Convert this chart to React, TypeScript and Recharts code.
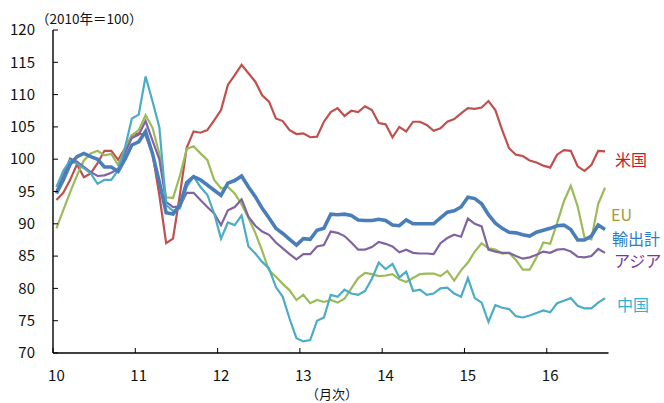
import { Line, LineChart, XAxis, YAxis } from "recharts";

// monthly index, Jan 2010 .. Sep 2016 (2010 = 100)
const usa = [
  93.7, 94.8, 96.8, 99.2, 97.2, 97.8, 99.4, 101.3, 101.3, 99.9,
  101.7, 103.7, 104.0, 103.7, 100.9, 94.5, 87.0, 87.7, 94.5, 101.8,
  104.3, 104.1, 104.5, 106.0, 107.6, 111.5, 113.0, 114.6, 113.3, 112.0,
  109.9, 108.9, 106.3, 105.9, 104.5, 103.9, 104.0, 103.4, 103.5, 105.8,
  107.3, 107.9, 106.7, 107.5, 107.3, 108.2, 107.6, 105.6, 105.4, 103.4,
  105.0, 104.3, 105.8, 105.8, 105.3, 104.4, 104.8, 105.8, 106.2, 107.1,
  107.9, 107.8, 108.0, 109.0, 107.6, 104.5, 101.7, 100.7, 100.5, 99.8,
  99.5, 99.0, 98.7, 100.7, 101.4, 101.3, 98.9, 98.2, 99.1, 101.3, 101.2,
];
const eu = [
  89.3, 92.1, 94.9, 97.5, 99.8, 100.9, 101.3, 100.6, 100.8, 99.1,
  101.6, 103.7, 104.5, 106.8, 104.9, 100.9, 94.1, 94.0, 97.4, 101.6,
  102.0, 100.9, 99.9, 96.8, 95.5, 95.7, 94.7, 93.0, 90.9, 88.6,
  85.8, 82.8, 81.8, 80.7, 79.7, 78.2, 79.0, 77.7, 78.2, 77.9,
  78.2, 77.8, 78.4, 80.0, 81.6, 82.4, 82.2, 81.9, 82.0, 82.2,
  81.4, 81.0, 81.6, 82.2, 82.3, 82.3, 81.9, 82.7, 81.2, 82.8,
  84.0, 85.7, 87.0, 86.2, 86.0, 85.4, 85.5, 84.4, 82.9, 82.9,
  84.8, 87.1, 86.9, 90.1, 93.5, 95.9, 92.7, 87.9, 87.6, 93.1, 95.6,
];
const total = [
  94.7, 96.8, 99.2, 100.4, 100.9, 100.4, 100.0, 98.8, 98.8, 98.1,
  100.0, 102.2, 102.7, 104.3, 100.9, 96.5, 91.7, 91.5, 92.9, 96.4,
  97.3, 96.8, 96.0, 95.2, 94.4, 96.3, 96.7, 97.4, 95.7, 94.2,
  92.4, 90.9, 89.3, 88.5, 87.6, 86.7, 87.7, 87.6, 89.0, 89.3,
  91.5, 91.4, 91.5, 91.3, 90.6, 90.5, 90.5, 90.7, 90.5, 89.8,
  89.7, 90.6, 90.0, 90.0, 90.0, 90.0, 90.9, 91.8, 92.0, 92.6,
  94.1, 93.9, 93.1, 91.4, 90.1, 89.3, 88.7, 88.6, 88.3, 88.1,
  88.7, 89.0, 89.3, 89.7, 89.8, 89.1, 87.5, 87.5, 88.1, 89.8, 89.1,
];
const asia = [
  95.0, 97.5, 100.1, 99.6, 98.8, 98.0, 97.4, 97.5, 97.9, 98.5,
  101.0, 103.3, 103.8, 105.9, 102.9, 100.0, 93.4, 92.6, 92.7, 94.8,
  94.8, 93.7, 92.6, 91.6, 89.8, 92.1, 92.6, 93.8, 91.1, 89.7,
  88.8, 88.3, 87.1, 86.2, 85.3, 84.5, 85.3, 85.3, 86.5, 86.7,
  88.8, 88.6, 88.1, 87.1, 86.0, 86.0, 86.4, 87.2, 86.9, 86.5,
  85.6, 86.0, 85.5, 85.4, 85.4, 85.3, 87.0, 87.8, 88.3, 88.0,
  90.8, 90.0, 89.6, 86.0, 85.7, 85.5, 85.5, 85.0, 84.6, 84.8,
  85.2, 85.7, 85.5, 86.0, 86.1, 85.7, 84.9, 84.8, 85.0, 86.1, 85.5,
];
const china = [
  95.7, 98.2, 99.8, 99.3, 98.6, 97.8, 96.2, 96.8, 96.8, 98.3,
  101.8, 106.3, 106.9, 112.8, 109.0, 105.0, 92.9, 92.0, 92.4, 95.7,
  97.3, 95.7, 94.5, 91.6, 87.7, 90.2, 89.8, 91.3, 86.5, 85.4,
  84.1, 83.1, 80.2, 78.7, 75.3, 72.3, 71.8, 72.0, 75.0, 75.5,
  79.0, 78.7, 79.8, 79.2, 79.0, 79.6, 81.5, 84.0, 83.0, 83.8,
  81.7, 82.6, 79.6, 79.8, 79.0, 79.2, 80.0, 80.1, 79.2, 78.7,
  81.6, 78.5, 77.8, 74.8, 77.4, 77.0, 76.8, 75.7, 75.5, 75.8,
  76.2, 76.6, 76.3, 77.7, 78.1, 78.5, 77.3, 76.9, 76.9, 77.8, 78.5,
];

const yearLabels = ["10", "11", "12", "13", "14", "15", "16"];
const yearTicks = yearLabels.map((_, i) => i * 12);
const yTicks = [70, 75, 80, 85, 90, 95, 100, 105, 110, 115, 120];

const FONT = "'Noto Sans CJK JP', 'Noto Sans', sans-serif";

// each month sits in the middle of its slot
const rows = usa.map((v, i) => ({
  m: i + 0.5,
  usa: v,
  eu: eu[i],
  total: total[i],
  asia: asia[i],
  china: china[i],
}));

function YTick(props: any) {
  const { x, y, payload } = props;
  return (
    <g>
      <line x1={x} x2={x + 5} y1={y} y2={y} stroke="#000" strokeWidth={1} />
      <text
        x={x - 18}
        y={y}
        dy="0.35em"
        textAnchor="end"
        fontSize={15}
        fontFamily={FONT}
        fill="#111"
      >
        {payload.value}
      </text>
    </g>
  );
}

function XTick(props: any) {
  const { x, y, payload, index } = props;
  return (
    <g>
      <line x1={x} x2={x} y1={y} y2={y - 5} stroke="#000" strokeWidth={1} />
      <text
        x={x + 3.4}
        y={y + 23}
        dy="0.35em"
        textAnchor="middle"
        fontSize={15}
        fontFamily={FONT}
        fill="#111"
      >
        {yearLabels[index] ?? payload.value}
      </text>
    </g>
  );
}

const labels = [
  { text: "米国", x: 615, y: 160, color: "#C0202A" },
  { text: "EU", x: 611, y: 215, color: "#9E9C3A" },
  { text: "輸出計", x: 612, y: 239, color: "#2A7EC6" },
  { text: "アジア", x: 614, y: 261, color: "#7436A0" },
  { text: "中国", x: 617, y: 305, color: "#2FAFDC" },
];

export default function App() {
  return (
    <div
      style={{
        position: "absolute",
        left: 0,
        top: 0,
        width: 664,
        height: 403,
        background: "#fff",
      }}
    >
      <LineChart
        width={664}
        height={403}
        data={rows}
        margin={{ top: 30, right: 55.5, bottom: 0, left: 0 }}
      >
        <XAxis
          dataKey="m"
          type="number"
          domain={[0, 81]}
          ticks={yearTicks}
          height={50}
          tickSize={0}
          tickMargin={0}
          tick={<XTick />}
          axisLine={{ stroke: "#000", strokeWidth: 1.4 }}
          interval={0}
        />
        <YAxis
          type="number"
          domain={[70, 120]}
          ticks={yTicks}
          width={53}
          tickSize={0}
          tickMargin={0}
          tick={<YTick />}
          axisLine={{ stroke: "#000", strokeWidth: 1.4 }}
          interval={0}
        />
        <Line dataKey="usa" stroke="#C0504D" strokeWidth={2.2} dot={false} isAnimationActive={false} />
        <Line dataKey="eu" stroke="#9BBB59" strokeWidth={2.2} dot={false} isAnimationActive={false} />
        <Line dataKey="asia" stroke="#8064A2" strokeWidth={2.2} dot={false} isAnimationActive={false} />
        <Line dataKey="china" stroke="#4BACC6" strokeWidth={2.2} dot={false} isAnimationActive={false} />
        <Line dataKey="total" stroke="#4A7EBB" strokeWidth={3.6} dot={false} isAnimationActive={false} />
      </LineChart>
      <svg
        width={664}
        height={403}
        style={{ position: "absolute", left: 0, top: 0, pointerEvents: "none" }}
      >
        <text x={36} y={19} dy="0.35em" fontSize={13.5} fontFamily={FONT} fill="#111">
          （2010年＝100）
        </text>
        <text x={332} y={394} dy="0.35em" textAnchor="middle" fontSize={13} fontFamily={FONT} fill="#111">
          （月次）
        </text>
        {labels.map((l) => (
          <text
            key={l.text}
            x={l.x}
            y={l.y}
            dy="0.35em"
            fontSize={16}
            fontFamily={FONT}
            fill={l.color}
          >
            {l.text}
          </text>
        ))}
      </svg>
    </div>
  );
}
